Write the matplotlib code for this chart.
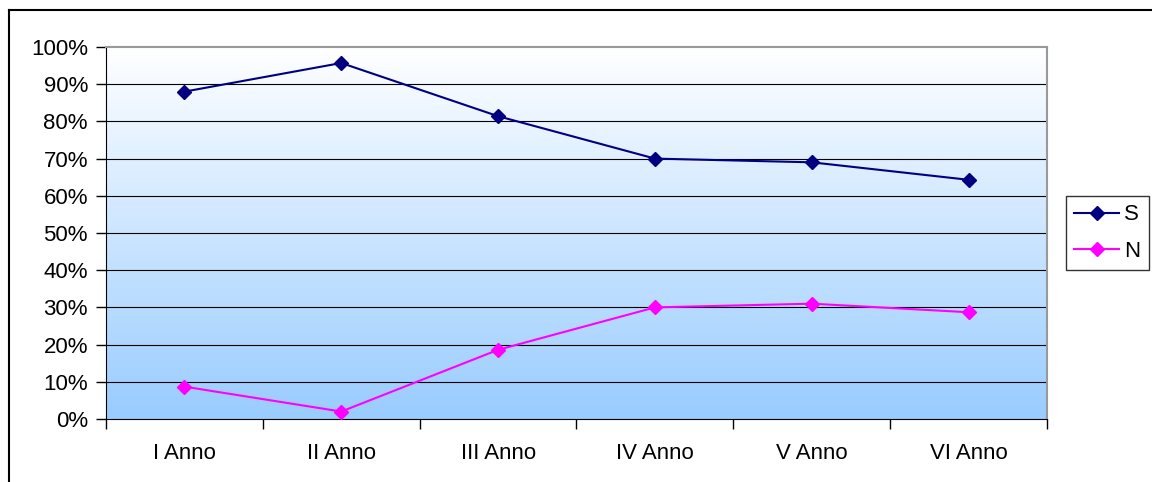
import matplotlib.pyplot as plt
import numpy as np
from matplotlib.colors import LinearSegmentedColormap
from matplotlib.lines import Line2D

plt.rcParams['font.family'] = ['Liberation Sans', 'DejaVu Sans']

categories = ['I Anno', 'II Anno', 'III Anno', 'IV Anno', 'V Anno', 'VI Anno']
s_values = [0.88, 0.957, 0.814, 0.70, 0.69, 0.643]
n_values = [0.087, 0.02, 0.186, 0.30, 0.31, 0.287]

fig = plt.figure(figsize=(11.52, 4.82), dpi=100)
ax = fig.add_axes([106 / 1152, 1 - 419 / 482, 941 / 1152, 372 / 482])

# sfondo sfumato bianco -> azzurro
cmap = LinearSegmentedColormap.from_list('bg', ['#99ccff', '#ffffff'])
grad = np.linspace(0, 1, 256).reshape(-1, 1)
ax.imshow(grad, cmap=cmap, aspect='auto', extent=[0, 1, 0, 1],
          transform=ax.transAxes, origin='lower', zorder=0)

x = np.arange(len(categories))
ax.plot(x, s_values, color='#000080', lw=1.5, marker='D', ms=7, zorder=3, label='S')
ax.plot(x, n_values, color='#ff00ff', lw=1.5, marker='D', ms=7, zorder=3, label='N')

ax.set_xlim(-0.5, len(categories) - 0.5)
ax.set_ylim(0, 1)
yt = np.arange(0, 1.01, 0.1)
ax.set_yticks(yt)
ax.set_yticklabels([f'{int(round(v * 100))}%' for v in yt], fontsize=16)
for v in yt[1:-1]:
    ax.axhline(v, color='black', lw=0.8, zorder=1)
ax.axhline(1.0, color='#808080', lw=1.2, zorder=1)

ax.set_xticks(x)
ax.set_xticklabels(categories, fontsize=16)
ax.set_xticks(np.arange(-0.5, len(categories), 1), minor=True)
ax.tick_params(axis='x', which='major', length=0, pad=17.5)
ax.tick_params(axis='x', which='minor', length=7, width=1, direction='out')
ax.tick_params(axis='y', length=7, width=1, direction='out', pad=6)

ax.spines['left'].set_color('black')
ax.spines['bottom'].set_color('black')
ax.spines['top'].set_color('#999999')
ax.spines['right'].set_color('#999999')
ax.spines['top'].set_linewidth(1.5)
ax.spines['right'].set_linewidth(1.5)

leg = ax.legend(loc='center left', bbox_to_anchor=(1066 / 1152, 1 - 233 / 482),
                bbox_transform=fig.transFigure, fontsize=16, frameon=True,
                fancybox=False, handlelength=2.0, handletextpad=0.25,
                borderpad=0.38, labelspacing=0.68, borderaxespad=0)
leg.get_frame().set_edgecolor('black')
leg.get_frame().set_linewidth(1.0)

# cornice esterna
fig.add_artist(Line2D([8.5 / 1152, 8.5 / 1152], [0, 1 - 10 / 482],
                      transform=fig.transFigure, color='black', lw=1.5))
fig.add_artist(Line2D([8.5 / 1152, 1], [1 - 10 / 482, 1 - 10 / 482],
                      transform=fig.transFigure, color='black', lw=1.5))

fig.savefig('out.png', dpi=100)
